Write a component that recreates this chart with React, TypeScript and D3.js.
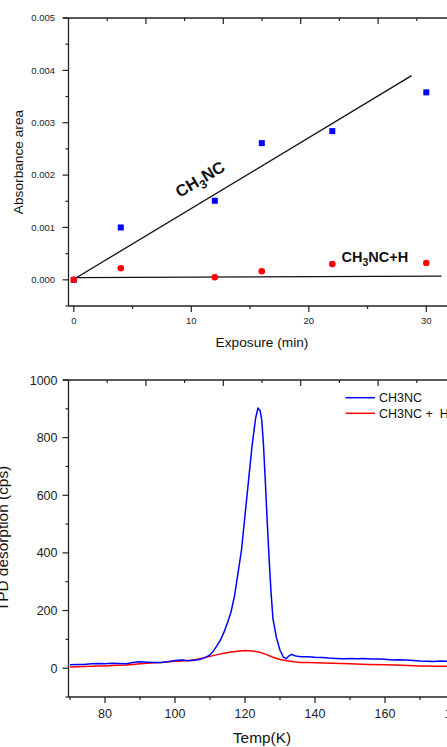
import React from "react";
import * as d3 from "d3";

// ---- Top chart data ----
const exposure = [0, 4, 12, 16, 22, 30];
const ch3ncAbs = [0, 0.001, 0.00151, 0.00261, 0.00284, 0.00358];
const ch3ncHAbs = [0, 0.000222, 0.00005, 0.000165, 0.0003, 0.00032];
const fitCh3nc = [[0, 0.00001], [28.75, 0.0039]];
const fitCh3ncH = [[0, 0.00004], [31.3, 0.00007]];
const topXTicks = [0, 10, 20, 30];
const topYTicks = [0, 0.001, 0.002, 0.003, 0.004, 0.005];

// ---- Bottom chart data ----
const blueT = [70, 72, 74, 76, 78, 80, 82, 84, 86, 88, 90, 92, 94, 96, 98, 100, 102, 104, 106, 107, 108, 109, 110, 111, 112, 113, 114, 115, 116, 117, 118, 119, 120, 121, 122, 123, 123.7, 124.3, 124.8, 125.3, 125.8, 126.3, 126.8, 127.4, 128, 129, 130, 131, 131.8, 132.5, 133.3, 134, 135, 136, 138, 140, 142, 144, 146, 148, 150, 152, 154, 156, 158, 160, 162, 164, 166, 168, 170, 172, 174, 176, 178, 180];
const blueCps = [12, 13, 13, 15, 16, 15, 17, 16, 15, 20, 22, 21, 20, 20, 22, 27, 28, 26, 28, 30, 34, 39, 46, 60, 78, 98, 125, 158, 195, 250, 330, 410, 530, 650, 770, 865, 902, 895, 860, 770, 650, 520, 400, 270, 170, 105, 62, 38, 33, 42, 48, 44, 41, 40, 40, 38, 37, 35, 34, 33, 34, 33, 34, 32, 32, 31, 28, 29, 28, 27, 25, 24, 23, 25, 24, 24];
const redT = [70, 72, 74, 76, 78, 80, 82, 84, 86, 88, 90, 92, 94, 96, 98, 100, 102, 104, 106, 108, 110, 112, 114, 116, 118, 120, 122, 124, 126, 128, 130, 132, 134, 136, 138, 140, 145, 150, 155, 160, 165, 170, 175, 180];
const redCps = [4, 5, 6, 7, 8, 8, 9, 10, 11, 13, 15, 17, 19, 20, 22, 24, 25, 27, 30, 35, 41, 47, 52, 56, 59, 61, 60, 56, 48, 38, 30, 26, 22, 20, 20, 19, 17, 15, 13, 12, 10, 8, 7, 6];
const botXTicks = [80, 100, 120, 140, 160, 180];
const botYTicks = [0, 200, 400, 600, 800, 1000];
const legendLabels = ["CH3NC", "CH3NC +  H"];
const legendColors = ["#0000ff", "#ff0000"];

const FONT = "'Liberation Sans', Arial, Helvetica, sans-serif";
const W = 447;
const H = 747;

export default function App() {
  // top chart scales
  const xT = d3.scaleLinear().domain([0, 30]).range([73.8, 426.3]);
  const yT = d3.scaleLinear().domain([-0.0005, 0.005]).range([306, 18]);
  // shared top-axis tick scale
  const topTick = d3.scaleLinear().domain([0, 10]).range([68.5, 68.5 + 387]);
  const topTickVals = d3.range(1, 11);

  // bottom chart
  const xB = d3.scaleLinear().domain([80, 160]).range([105, 385]);
  const yB = d3.scaleLinear().domain([-100, 1000]).range([697, 380]);

  const lineT = d3.line<number[]>().x((d) => xT(d[0])).y((d) => yT(d[1]));
  const lineB = d3.line<[number, number]>().x((d) => xB(d[0])).y((d) => yB(d[1]));

  const blueData = blueT.map((t, i) => [t, blueCps[i]] as [number, number]);
  const redData = redT.map((t, i) => [t, redCps[i]] as [number, number]);

  const axisColor = "#222";
  const topMinorY = d3.range(-0.0005, 0.00501, 0.0005).filter((v) => Math.abs(Math.round(v / 0.001) * 0.001 - v) > 1e-7);
  const topMinorX = [5, 15, 25];
  const botMinorY = [-100, 100, 300, 500, 700, 900];
  const botMinorX = [70, 90, 110, 130, 150, 170];

  const topAxisTicks = (y0: number) =>
    topTickVals.map((k) => (
      <line key={"tt" + y0 + k} x1={topTick(k)} x2={topTick(k)} y1={y0} y2={y0 + (k % 2 === 0 ? 6 : 3)} stroke={axisColor} strokeWidth={1.2} />
    ));

  return (
    <svg width={W} height={H} style={{ position: "absolute", left: 0, top: 0, background: "#fff" }} fontFamily={FONT}>
      <rect x={0} y={0} width={W} height={H} fill="#fff" />
      {/* ================= TOP CHART ================= */}
      <line x1={63} x2={W} y1={18} y2={18} stroke={axisColor} strokeWidth={1.3} />
      {topAxisTicks(18)}
      <line x1={68.5} x2={68.5} y1={18} y2={306} stroke={axisColor} strokeWidth={1.3} />
      <line x1={68.5} x2={W} y1={306} y2={306} stroke={axisColor} strokeWidth={1.3} />
      {topYTicks.map((v) => (
        <g key={"ty" + v}>
          <line x1={62.5} x2={68.5} y1={yT(v)} y2={yT(v)} stroke={axisColor} strokeWidth={1.2} />
          <text x={55} y={yT(v) + 3.4} fontSize={9.5} textAnchor="end" fill="#222">
            {d3.format(".3f")(v)}
          </text>
        </g>
      ))}
      {topMinorY.map((v) => (
        <line key={"tmy" + v} x1={65.5} x2={68.5} y1={yT(v)} y2={yT(v)} stroke={axisColor} strokeWidth={1.2} />
      ))}
      {topXTicks.map((v) => (
        <g key={"tx" + v}>
          <line x1={xT(v)} x2={xT(v)} y1={306} y2={312} stroke={axisColor} strokeWidth={1.2} />
          <text x={xT(v)} y={324} fontSize={9.5} textAnchor="middle" fill="#222">
            {v}
          </text>
        </g>
      ))}
      {topMinorX.map((v) => (
        <line key={"tmx" + v} x1={xT(v)} x2={xT(v)} y1={306} y2={309} stroke={axisColor} strokeWidth={1.2} />
      ))}
      <text x={262} y={347} fontSize={13.7} textAnchor="middle" fill="#111">
        Exposure (min)
      </text>
      <text transform={`translate(22.5,${(18 + 306) / 2}) rotate(-90)`} fontSize={13.7} textAnchor="middle" fill="#111">
        Absorbance area
      </text>
      <path d={lineT(fitCh3nc) || ""} stroke="#111" strokeWidth={1.3} fill="none" />
      <path d={lineT(fitCh3ncH) || ""} stroke="#111" strokeWidth={1.3} fill="none" />
      {exposure.map((x, i) => (
        <rect key={"sq" + i} x={xT(x) - 3} y={yT(ch3ncAbs[i]) - 3} width={6} height={6} fill="#0000ff" />
      ))}
      {exposure.map((x, i) => (
        <circle key={"ci" + i} cx={xT(x)} cy={yT(ch3ncHAbs[i])} r={3.3} fill="#ff0000" />
      ))}
      <text transform="translate(203,184) rotate(-31)" fontSize={16.5} fontWeight="bold" textAnchor="middle" fill="#111">
        CH<tspan dy={4.5} fontSize={12}>3</tspan><tspan dy={-4.5}>NC</tspan>
      </text>
      <text x={341.5} y={261.5} fontSize={14.5} fontWeight="bold" fill="#111">
        CH<tspan dy={4} fontSize={10.5}>3</tspan><tspan dy={-4}>NC+H</tspan>
      </text>

      {/* ================= BOTTOM CHART ================= */}
      <line x1={63} x2={W} y1={380} y2={380} stroke={axisColor} strokeWidth={1.3} />
      {topAxisTicks(380)}
      <line x1={68.5} x2={68.5} y1={380} y2={697} stroke={axisColor} strokeWidth={1.3} />
      <line x1={68.5} x2={W} y1={697} y2={697} stroke={axisColor} strokeWidth={1.3} />
      {botYTicks.map((v) => (
        <g key={"by" + v}>
          <line x1={62.5} x2={68.5} y1={yB(v)} y2={yB(v)} stroke={axisColor} strokeWidth={1.2} />
          <text x={57.5} y={yB(v) + 4.5} fontSize={12.5} textAnchor="end" fill="#222">
            {v}
          </text>
        </g>
      ))}
      {botMinorY.map((v) => (
        <line key={"bmy" + v} x1={65.5} x2={68.5} y1={yB(v)} y2={yB(v)} stroke={axisColor} strokeWidth={1.2} />
      ))}
      {botXTicks.map((v) => (
        <g key={"bx" + v}>
          <line x1={xB(v)} x2={xB(v)} y1={697} y2={703} stroke={axisColor} strokeWidth={1.2} />
          <text x={xB(v)} y={718} fontSize={12.5} textAnchor="middle" fill="#222">
            {v}
          </text>
        </g>
      ))}
      {botMinorX.map((v) => (
        <line key={"bmx" + v} x1={xB(v)} x2={xB(v)} y1={697} y2={700} stroke={axisColor} strokeWidth={1.2} />
      ))}
      <text x={262} y={743} fontSize={15.4} textAnchor="middle" fill="#111">
        Temp(K)
      </text>
      <text transform={`translate(8,${(380 + 697) / 2}) rotate(-90)`} fontSize={15.4} textAnchor="middle" fill="#111">
        TPD desorption (cps)
      </text>
      <path d={lineB(redData) || ""} stroke="#ff0000" strokeWidth={1.5} fill="none" />
      <path d={lineB(blueData) || ""} stroke="#0000ff" strokeWidth={1.5} fill="none" />
      {legendLabels.map((lab, i) => (
        <g key={"lg" + i}>
          <line x1={345.5} x2={375} y1={397.7 + i * 15.6} y2={397.7 + i * 15.6} stroke={legendColors[i]} strokeWidth={1.5} />
          <text x={379} y={397.7 + i * 15.6 + 4.5} fontSize={12.5} fill="#111" style={{ whiteSpace: "pre" }}>
            {lab}
          </text>
        </g>
      ))}
    </svg>
  );
}
